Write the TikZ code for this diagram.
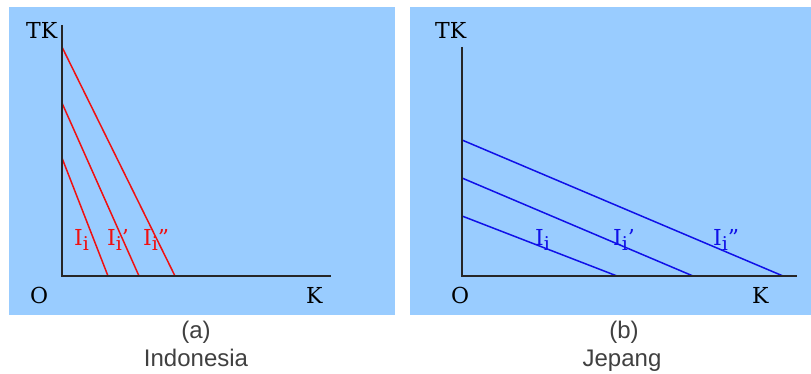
\documentclass[tikz,border=0pt]{standalone}
\usepackage{fontspec}
\setmainfont{DejaVu Serif}
\newfontfamily\capfont{Liberation Sans}
\definecolor{bgblue}{HTML}{99CCFF}
\definecolor{lred}{HTML}{F01010}
\definecolor{lblue}{HTML}{1010E8}
\newcommand{\subi}{\raisebox{-5pt}{\fontsize{19}{20}\selectfont i}}
\tikzset{
  panel/.style={fill=bgblue, draw=none},
  axis/.style={draw=black!85, line width=2pt},
  redline/.style={draw=lred, line width=1.5pt},
  blueline/.style={draw=lblue, line width=1.5pt},
  axlabel/.style={inner sep=0pt, anchor=base west, font=\fontsize{22}{24}\selectfont},
  curvelabel/.style={inner sep=0pt, anchor=base west, font=\fontsize{22}{24}\selectfont},
  caption/.style={inner sep=0pt, anchor=base, font=\capfont\fontsize{24}{28}\selectfont, text=black!75},
}
\begin{document}
\begin{tikzpicture}[x=1pt, y=-1pt]
\useasboundingbox (0,0) rectangle (811,374);
\fill[white] (0,0) rectangle (811,374);
% panels
\path[panel] (9,7) rectangle (395,315);
\path[panel] (410,7) rectangle (811,315);

% ---------- panel (a) ----------
\coordinate (aO) at (62,276);
\coordinate (aY) at (62,25);
\coordinate (aX) at (331,276);
\coordinate (a1s) at (62,158); \coordinate (a1e) at (108,276);
\coordinate (a2s) at (62,103); \coordinate (a2e) at (139,276);
\coordinate (a3s) at (62,47);  \coordinate (a3e) at (175,276);
\draw[redline] (a1s) -- (a1e);
\draw[redline] (a2s) -- (a2e);
\draw[redline] (a3s) -- (a3e);
\draw[axis] (aY) -- (aO) -- (aX);
\node[axlabel] (aTK) at (26,39) {TK};
\node[axlabel] (aOl) at (30,303) {O};
\node[axlabel] (aK) at (306,303) {K};
\node[curvelabel, text=lred] (aI1) at (74,245) {I\subi};
\node[curvelabel, text=lred] (aI2) at (107,245) {I\subi’};
\node[curvelabel, text=lred] (aI3) at (143,245) {I\subi”};
\node[caption] (acap1) at (196,338) {(a)};
\node[caption] (acap2) at (196,366) {Indonesia};

% ---------- panel (b) ----------
\coordinate (bO) at (462,276);
\coordinate (bY) at (462,47);
\coordinate (bX) at (797,276);
\coordinate (b1s) at (462,216); \coordinate (b1e) at (617,276);
\coordinate (b2s) at (462,178); \coordinate (b2e) at (693,276);
\coordinate (b3s) at (462,140); \coordinate (b3e) at (783,276);
\draw[blueline] (b1s) -- (b1e);
\draw[blueline] (b2s) -- (b2e);
\draw[blueline] (b3s) -- (b3e);
\draw[axis] (bY) -- (bO) -- (bX);
\node[axlabel] (bTK) at (435,39) {TK};
\node[axlabel] (bOl) at (451,303) {O};
\node[axlabel] (bK) at (752,303) {K};
\node[curvelabel, text=lblue] (bI1) at (535,245) {I\subi};
\node[curvelabel, text=lblue] (bI2) at (613,245) {I\subi’};
\node[curvelabel, text=lblue] (bI3) at (713,245) {I\subi”};
\node[caption] (bcap1) at (624,338) {(b)};
\node[caption] (bcap2) at (622,366) {Jepang};
\end{tikzpicture}
\end{document}
